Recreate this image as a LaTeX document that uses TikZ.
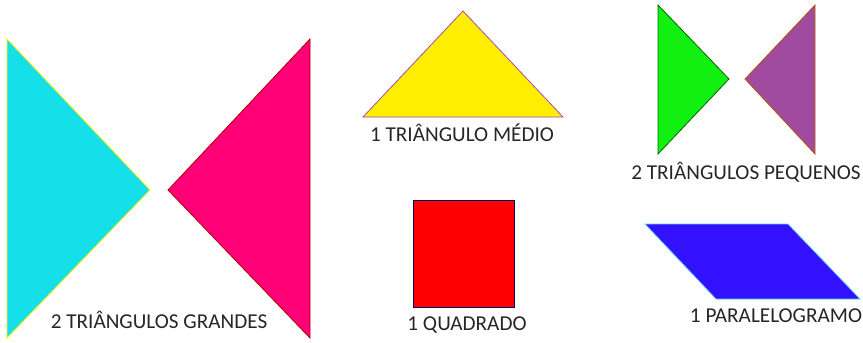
\documentclass[tikz,border=0pt]{standalone}
\usepackage{fontspec}
\setmainfont{Carlito}
\definecolor{tcyan}{HTML}{15E0EA}
\definecolor{tpink}{HTML}{FF0077}
\definecolor{tyellow}{HTML}{FFEE00}
\definecolor{tgreen}{HTML}{11F011}
\definecolor{tpurple}{HTML}{A04AA0}
\definecolor{tred}{HTML}{FF0000}
\definecolor{tblue}{HTML}{3311FF}
\tikzset{piece/.style={line width=0.8pt, line join=miter},
  rotulo/.style={font=\fontsize{21.2}{24}\selectfont, text=black!85, inner sep=0pt}}
\begin{document}
\begin{tikzpicture}[x=1pt,y=-1pt]
                \useasboundingbox (0,0) rectangle (863,343);

                \draw[piece,fill=tcyan,draw=yellow] (7,39) -- (150,190) -- (7,338) -- cycle;
                \draw[piece,fill=tpink,draw=red!70!black] (310,39) -- (168,190) -- (310,338) -- cycle;
                \node[rotulo] (grandes) at (159,320) {2 TRIÂNGULOS GRANDES};

                \draw[piece,fill=tyellow,draw=violet!70] (363,117) -- (463,11) -- (563,117) -- cycle;
                \node[rotulo] (medio) at (462,133) {1 TRIÂNGULO MÉDIO};

                \draw[piece,fill=tgreen,draw=green!40!black] (658,5) -- (729,79) -- (658,154) -- cycle;
                \draw[piece,fill=tpurple,draw=orange!70!black] (815,5) -- (745,79) -- (815,154) -- cycle;
                \node[rotulo] (pequenos) at (746,172) {2 TRIÂNGULOS PEQUENOS};

                \draw[piece,fill=tred,draw=blue!40!black] (413,200) rectangle (514,307);
                \node[rotulo] (quadrado) at (467,325) {1 QUADRADO};

                \draw[piece,fill=tblue,draw=cyan!60] (645,224) -- (788,224) -- (860,299) -- (716,299) -- cycle;
                \node[rotulo] (paralelo) at (776,316) {1 PARALELOGRAMO};
            \end{tikzpicture}
\end{document}
